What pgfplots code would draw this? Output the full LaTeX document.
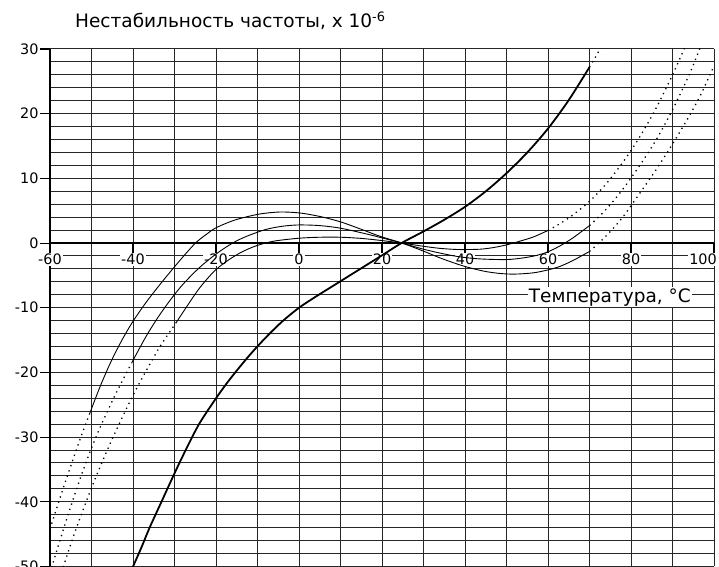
\documentclass[border=0pt]{standalone}
\usepackage{fontspec}
\setmainfont{DejaVu Sans}
\usepackage{pgfplots}
\pgfplotsset{compat=1.18}
\pgfplotsset{layers/mylayers/.define layer set={axis background,axis grid,axis ticks,axis lines,pre main,main,axis tick labels,axis descriptions,axis foreground}{}}
\tikzset{dotcurve/.style={black, line width=1.3pt, dash pattern=on 1.3pt off 4.2pt, smooth}}
\begin{document}
\begin{tikzpicture}
\begin{axis}[
  name=ax,
  set layers=mylayers,
  scale only axis, width=664pt, height=517.5pt,
  xmin=-60, xmax=100, ymin=-50, ymax=30,
  axis x line=middle, axis y line=left,
  axis line style={-, line width=1.7pt, black},
  xtick={-60,-40,...,80},
  extra x ticks={100},
  extra x tick style={grid=major, xticklabel style={xshift=-11pt}},
  minor xtick={-50,-30,...,90},
  ytick={-50,-40,...,30},
  minor ytick={-48,-46,...,28},
  grid=both,
  major grid style={black!85, line width=1pt},
  minor grid style={black!85, line width=1pt},
  tick align=outside,
  major tick length=10pt,
  minor tick length=0pt,
  tick style={black, line width=1.1pt},
  hide obscured x ticks=false, hide obscured y ticks=false,
  /pgf/number format/assume math mode=true,
  tick label style={font=\fontsize{14.4}{16}\selectfont},
  xticklabel style={fill=white, inner sep=1pt},
  yticklabel style={xshift=2pt},
]
% thick curve
\addplot[black, line width=1.8pt, smooth] coordinates {
(-40.2,-50.3) (-38,-47.1) (-36,-44.0) (-33,-39.8) (-30,-35.6) (-27,-31.6) (-24,-27.9)
(-20,-24.0) (-16.6,-21.0) (-12,-17.4) (-8,-14.6) (-4,-12.1) (0,-10.0) (4,-8.3) (8,-6.7)
(14,-4.3) (20,-1.9) (24.7,0) (30,1.8) (35,3.6) (40,5.6) (45,8.0) (50,10.8) (55,14.0)
(60,17.7) (65,22.1) (70,27.2)};
\addplot[dotcurve] coordinates {(70,27.2) (71.3,28.6) (72.7,30.2)};
% curve 1
\addplot[dotcurve] coordinates {(-60,-44.2) (-59.3,-42.8) (-56.4,-37.1) (-52.8,-30.4) (-50.4,-26.3)};
\addplot[black, line width=0.9pt, smooth] coordinates {
(-50.4,-26.3) (-48,-22.3) (-45.5,-18.6) (-43,-15.4) (-40.3,-12.4) (-37,-9.3) (-33.5,-6.4)
(-30.3,-3.9) (-27.1,-1.5) (-24.7,0.15) (-22,1.5) (-20.2,2.3) (-17,3.2) (-14.2,3.8)
(-9.4,4.5) (-4.6,4.8) (0.2,4.65) (5.1,4.1) (9.9,3.3) (14.7,2.2) (19.5,1.05) (24.8,0)
(30,-1.25) (34,-2.3) (38.4,-3.3) (41.6,-3.9) (45,-4.4) (48.4,-4.7) (52,-4.8) (56.5,-4.6)
(60,-4.15) (62.9,-3.6) (66,-2.7) (70,-1.3)};
\addplot[dotcurve] coordinates {(70,-1.3) (74,1.1) (78,4.0) (82,7.6) (86,11.3) (90,15.3) (94,19.6) (97,23.2) (100,27.4)};
% curve 2
\addplot[dotcurve] coordinates {(-60,-51.0) (-58,-46.8) (-56,-42.7) (-54,-38.8) (-52,-35.1) (-50,-31.7) (-48,-28.6) (-46,-25.8) (-44,-23.1) (-42,-20.6) (-40.3,-18.5)};
\addplot[black, line width=0.9pt, smooth] coordinates {
(-40.3,-18.5) (-37,-14.6) (-34,-11.5) (-31,-8.8) (-28,-6.4) (-24,-3.8) (-20,-1.7) (-16,0)
(-12.6,1.05) (-8,2.1) (-4,2.6) (0,2.8) (5,2.7) (10,2.3) (16.3,1.4) (20,0.8) (24.8,0)
(30,-0.95) (34,-1.55) (38.4,-2.1) (43.6,-2.45) (50,-2.55) (54,-2.3) (57.3,-1.9) (60,-1.35)
(63,-0.4) (66,0.8) (70,2.7)};
\addplot[dotcurve] coordinates {(70,2.7) (74,5.2) (78,8.3) (82,11.9) (86,15.9) (90,20.6) (94,26.0) (96.6,30.1)};
% curve 3
\addplot[dotcurve] coordinates {(-56.8,-50.1) (-54.5,-45.6) (-52,-41.2) (-49.6,-37.2) (-47,-33.2) (-44.8,-30.0) (-42.4,-26.7) (-39.9,-23.4) (-36.7,-19.6) (-33.5,-16.0) (-29.5,-12.2)};
\addplot[black, line width=0.9pt, smooth] coordinates {
(-29.5,-12.2) (-26.5,-9.3) (-23.9,-6.9) (-20.5,-4.4) (-17.4,-2.8) (-14,-1.45) (-10.2,-0.4)
(-6,0.3) (0,0.75) (5,0.9) (10,0.9) (15,0.72) (19.5,0.42) (24.8,0) (30,-0.5) (34,-0.82)
(38.4,-1.0) (43.6,-0.95) (47,-0.68) (50,-0.28) (53,0.25) (56.5,0.95) (60,1.95)};
\addplot[dotcurve] coordinates {(60,1.95) (63,3.05) (66,4.35) (70,6.45) (74,9.15) (78,12.45) (82,16.3) (86,20.8) (90,26.0) (93,30.3)};
\node[fill=white, inner sep=1pt, font=\fontsize{18.5}{20}\selectfont] at (axis cs:74.9,-8.35) {Температура, °C};
\end{axis}
\node[anchor=base west, inner sep=0pt, font=\fontsize{18.5}{20}\selectfont] at ([xshift=25pt,yshift=21pt]ax.north west) {Нестабильность частоты, x 10\textsuperscript{-6}};
\pgfresetboundingbox
\useasboundingbox ([xshift=-50pt]ax.south west) rectangle ([xshift=5pt,yshift=49pt]ax.north east);
\end{tikzpicture}
\end{document}
